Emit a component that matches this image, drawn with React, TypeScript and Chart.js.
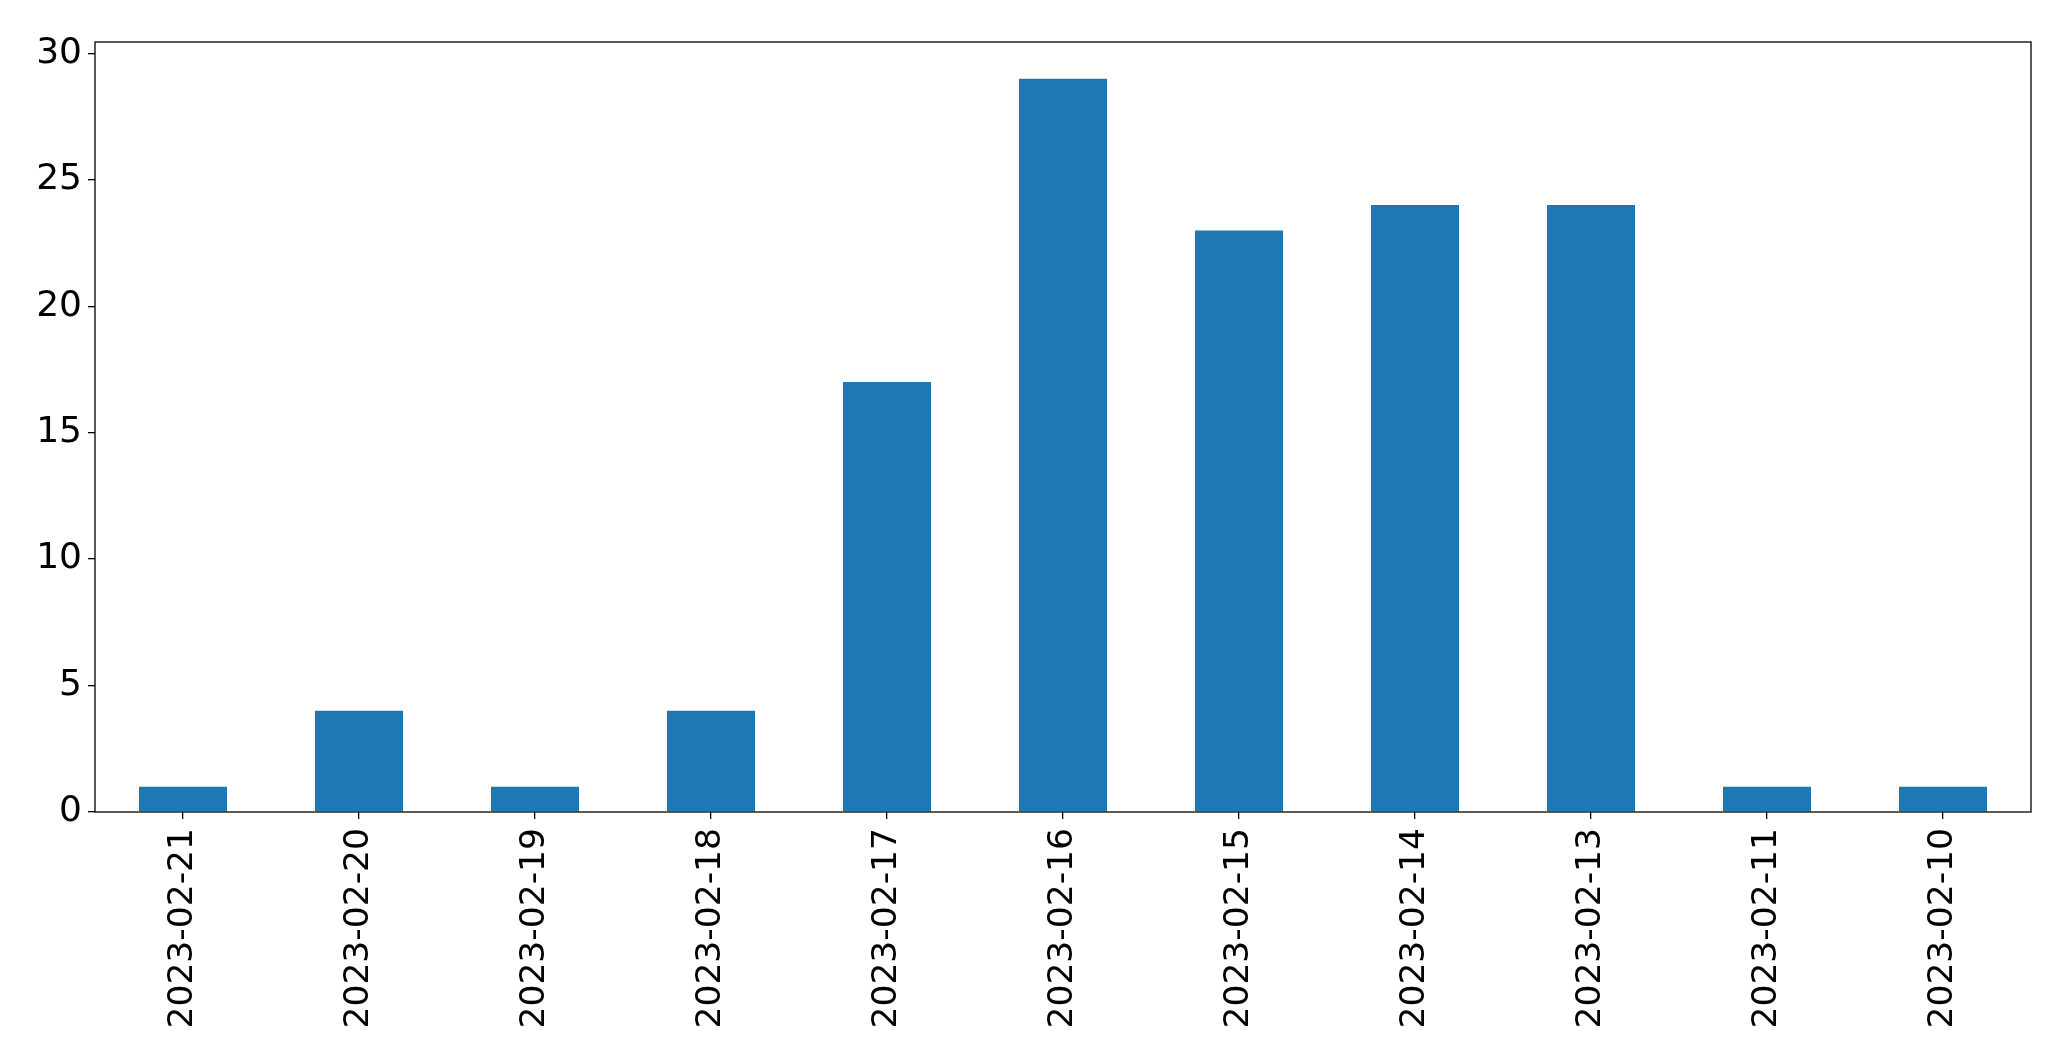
import React, { useEffect, useRef } from "react";
import { Chart, registerables } from "chart.js";

Chart.register(...registerables);

const categories = [
  "2023-02-21",
  "2023-02-20",
  "2023-02-19",
  "2023-02-18",
  "2023-02-17",
  "2023-02-16",
  "2023-02-15",
  "2023-02-14",
  "2023-02-13",
  "2023-02-11",
  "2023-02-10",
];
const counts = [1, 4, 1, 4, 17, 29, 23, 24, 24, 1, 1];
const yTicks = [0, 5, 10, 15, 20, 25, 30];

const W = 2071;
const H = 1064;
const FONT = "'DejaVu Sans', sans-serif";

const frame = {
  id: "frame",
  afterDraw(chart: any) {
    const { ctx, chartArea } = chart;
    ctx.save();
    ctx.strokeStyle = "#000";
    ctx.lineWidth = 1.3;
    ctx.strokeRect(chartArea.left, chartArea.top, chartArea.right - chartArea.left, chartArea.bottom - chartArea.top);
    ctx.restore();
  },
};

export default function App() {
  const ref = useRef<HTMLCanvasElement | null>(null);
  useEffect(() => {
    if (!ref.current) return;
    const chart = new Chart(ref.current, {
      type: "bar",
      data: {
        labels: categories,
        datasets: [
          {
            data: counts,
            backgroundColor: "#1f77b4",
            barPercentage: 0.5,
            categoryPercentage: 1,
          },
        ],
      },
      options: {
        responsive: false,
        animation: false,
        devicePixelRatio: 1,
        layout: { padding: { top: 42, right: 40, left: 0, bottom: 0 } },
        plugins: { legend: { display: false }, tooltip: { enabled: false } },
        scales: {
          x: {
            offset: true,
            grid: { offset: false, drawOnChartArea: false, drawTicks: true, tickLength: 7, color: "#000", lineWidth: 1.3 },
            border: { display: false },
            ticks: {
              color: "#000",
              font: { family: FONT, size: 34.5 },
              minRotation: 90,
              maxRotation: 90,
              padding: 9,
              autoSkip: false,
            },
            afterFit(scale: any) {
              scale.height = H - 812;
            },
          },
          y: {
            min: 0,
            max: 30.45,
            grid: { drawOnChartArea: false, drawTicks: true, tickLength: 7, color: "#000", lineWidth: 1.3 },
            border: { display: false },
            afterBuildTicks(scale: any) {
              scale.ticks = yTicks.map((v) => ({ value: v }));
            },
            ticks: {
              color: "#000",
              font: { family: FONT, size: 36 },
              padding: 6,
            },
            afterFit(scale: any) {
              scale.width = 95;
            },
          },
        },
      },
      plugins: [frame],
    });
    return () => chart.destroy();
  }, []);
  return (
    <div style={{ position: "fixed", left: 0, top: 0, width: W, height: H, background: "#fff" }}>
      <canvas ref={ref} width={W} height={H} style={{ width: W, height: H }} />
    </div>
  );
}
